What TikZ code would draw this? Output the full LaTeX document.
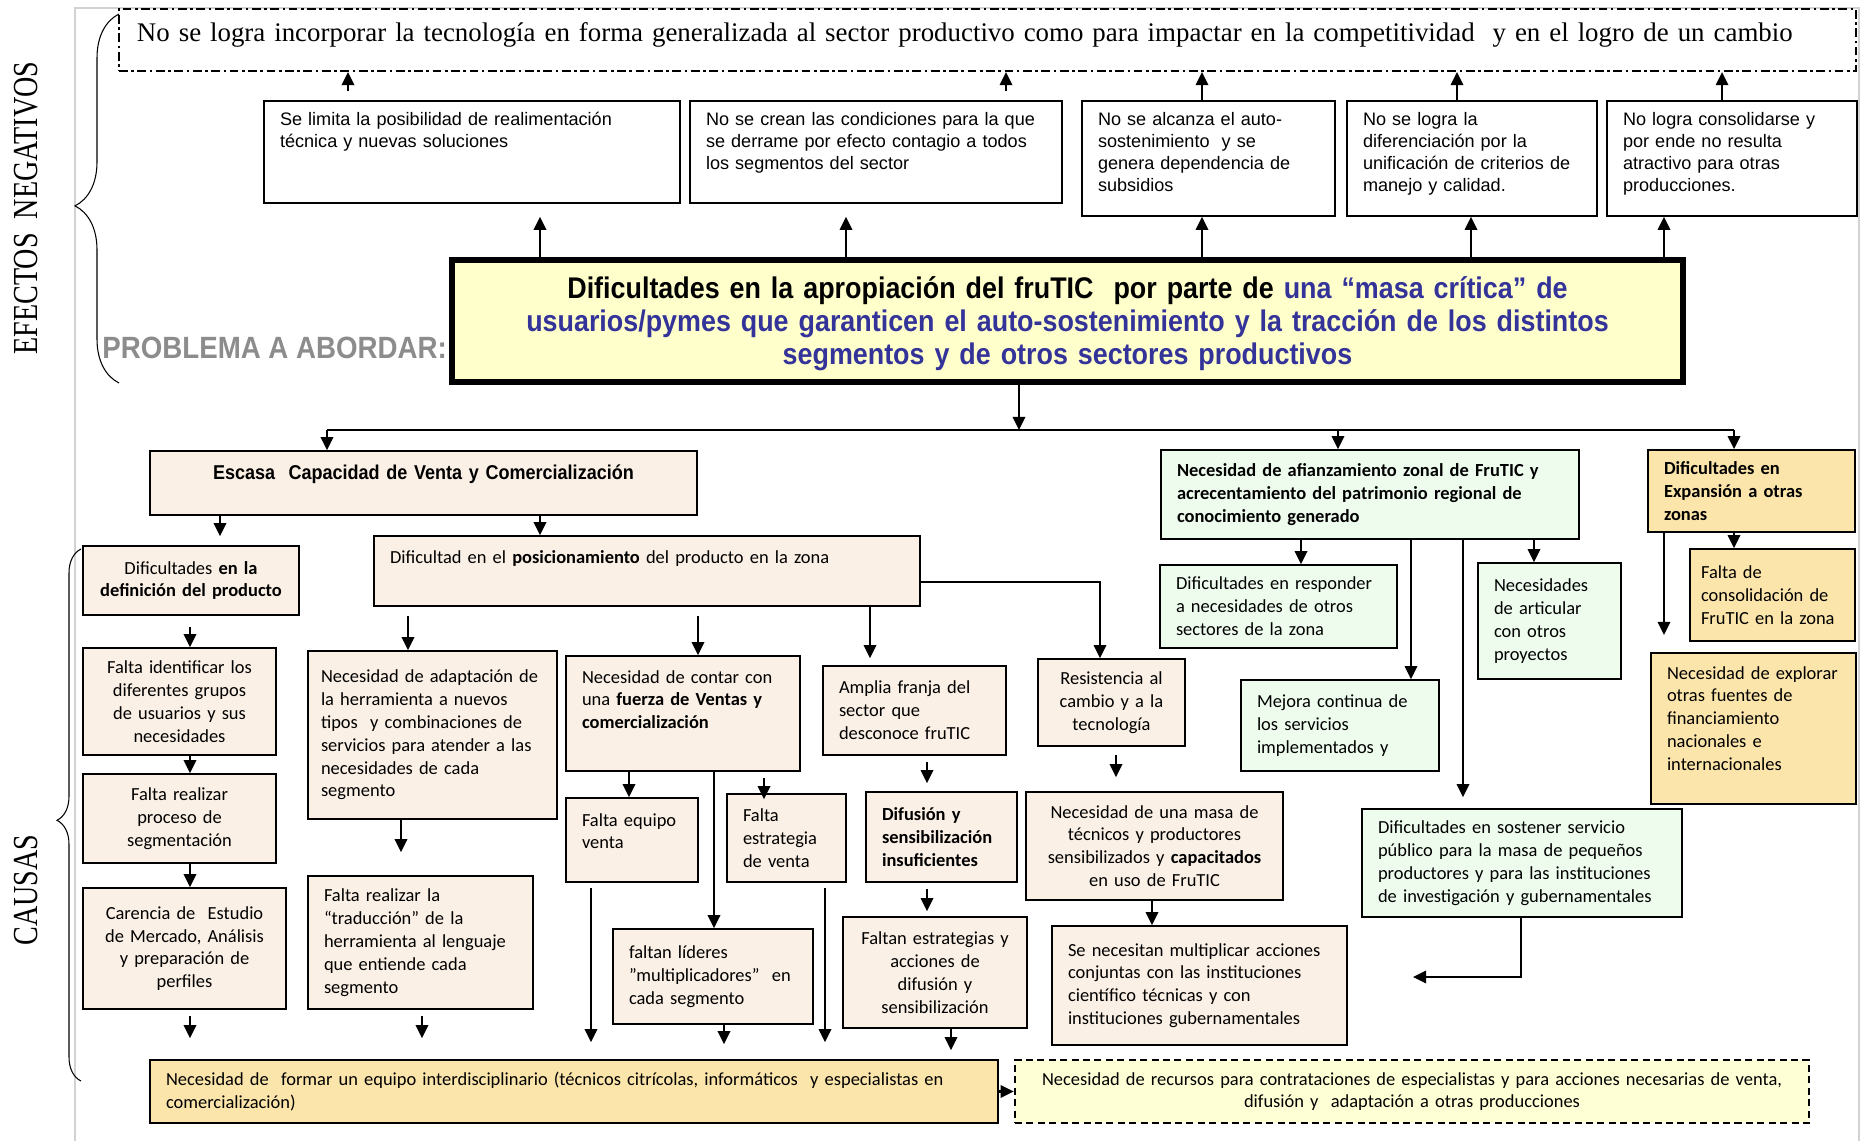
\documentclass[tikz,border=0pt]{standalone}
\usepackage{fontspec}
\setmainfont{Carlito}
\newfontfamily\angosta[FakeStretch=0.9]{Liberation Sans}
\newfontfamily\arial{Liberation Sans}
\newfontfamily\serifa{Liberation Serif}
\newfontfamily\serifang[FakeStretch=0.8]{Liberation Serif}
\usetikzlibrary{arrows.meta,decorations.pathreplacing}
\definecolor{fondoCausa}{RGB}{251,240,229}
\definecolor{fondoVerde}{RGB}{238,252,238}
\definecolor{fondoNaranja}{RGB}{252,229,170}
\definecolor{fondoProb}{RGB}{255,255,204}
\definecolor{fondoRec}{RGB}{255,255,214}
\definecolor{azulProb}{RGB}{51,51,153}
\definecolor{grisEtiq}{RGB}{140,140,140}
\tikzset{
  ancho/.code={\pgfmathsetlengthmacro\anchocaja{#1*0.02cm-2*\pgfkeysvalueof{/pgf/inner xsep}}\pgfkeysalso{/tikz/text width=\anchocaja}},
  alto/.code={\pgfmathsetlengthmacro\altocaja{#1*0.02cm}\pgfkeysalso{/tikz/minimum height=\altocaja}},
  arriba/.code 2 args={\pgfmathsetlengthmacro\arribaA{#1*0.02cm}\pgfmathsetlengthmacro\arribaB{#2*0.02cm}\pgfkeysalso{/tikz/text height=\arribaA,/tikz/text depth=\arribaB}},
  caja/.style={draw, line width=0.9pt, inner xsep=0.32cm, inner ysep=0.16cm, font=\fontsize{10.5}{13}\selectfont},
  causa/.style={caja, fill=fondoCausa},
  verde/.style={caja, fill=fondoVerde},
  naranja/.style={caja, fill=fondoNaranja},
  efecto/.style={draw, line width=0.8pt, fill=white, inner xsep=0.32cm, inner ysep=0.2cm, align=left, font=\arial\fontsize{10.3}{12.4}\selectfont},
  flecha/.style={->, line width=1.4pt},
  llave/.style={decorate, line width=0.6pt},
}
\begin{document}
\begin{tikzpicture}[x=0.02cm, y=-0.02cm, >={Triangle[length=7.5pt,width=7pt]}]
\useasboundingbox (0,0) rectangle (1862,1141);
\fill[white] (0,0) rectangle (1862,1141);
\draw[gray!35, line width=0.8pt] (75,1141) -- (75,8) -- (1859,8) -- (1859,1141);

\node[draw, line width=1.2pt, dash pattern=on 5pt off 2pt on 1.5pt off 2pt, inner xsep=0.36cm, inner ysep=0pt, align=left, ancho=1737, arriba={33}{29}, font=\serifa\fontsize{15.3}{18}\selectfont] (sup) at (987.5,40) {No se logra incorporar la tecnología en forma generalizada al sector productivo como para impactar en la competitividad\ \ y en el logro de un cambio};

\node[efecto, ancho=416, arriba={15}{67}] (e1) at (472,152) {Se limita la posibilidad de realimentación\\técnica y nuevas soluciones};
\node[efecto, ancho=372, arriba={15}{67}] (e2) at (876,152) {No se crean las condiciones para la que\\se derrame por efecto contagio a todos\\los segmentos del sector};
\node[efecto, ancho=253, arriba={15}{80}] (e3) at (1208.5,158.5) {No se alcanza el auto-\\sostenimiento\ \ y se\\genera dependencia de\\subsidios};
\node[efecto, ancho=250, arriba={15}{80}] (e4) at (1472,158.5) {No se logra la\\diferenciación por la\\unificación de criterios de\\manejo y calidad.};
\node[efecto, ancho=250, arriba={15}{80}] (e5) at (1732,158.5) {No logra consolidarse y\\por ende no resulta\\atractivo para otras\\producciones.};

\node[draw, line width=3.4pt, fill=fondoProb, inner xsep=0.3cm, inner ysep=0pt, ancho=1231, arriba={39}{83}, align=center, font=\angosta\bfseries\fontsize{17}{18.5}\selectfont] (prob) at (1067.5,321) {Dificultades en la apropiación del fruTIC\ \ por parte de \textcolor{azulProb}{una “masa crítica” de}\\\textcolor{azulProb}{usuarios/pymes que garanticen el auto-sostenimiento y la tracción de los distintos}\\\textcolor{azulProb}{segmentos y de otros sectores productivos}};
\node[anchor=base east, text=grisEtiq, font=\angosta\bfseries\fontsize{17.5}{21}\selectfont] (etiq) at (453,359) {PROBLEMA A ABORDAR:};

\node[rotate=90, font=\serifang\fontsize{20}{24}\selectfont] (efectos) at (26,208) {EFECTOS\ \ NEGATIVOS};
\node[rotate=90, font=\serifang\fontsize{20}{24}\selectfont] (causas) at (26,890) {CAUSAS};
\draw[llave, decoration={brace, amplitude=0.88cm, aspect=0.48}] (119,383) -- (119,14);
\draw[llave, decoration={brace, amplitude=0.48cm, aspect=0.49}] (81,1081) -- (81,549);

\node[causa, ancho=547, align=center, arriba={21}{27}, font=\angosta\bfseries\fontsize{11.4}{13}\selectfont] (esc) at (423.5,483) {Escasa\ \ Capacidad de Venta y Comercialización};
\node[causa, ancho=216, alto=69, align=center] (defprod) at (191,580.5) {Dificultades \textbf{en la}\\\textbf{definición del producto}};
\node[causa, ancho=546, align=left, arriba={20}{34}] (posic) at (647,571) {Dificultad en el \textbf{posicionamiento} del producto en la zona};
\node[causa, ancho=193, alto=107, align=center] (grupos) at (179.5,701.5) {Falta identificar los\\diferentes grupos\\de usuarios y sus\\necesidades};
\node[causa, ancho=193, alto=89, align=center] (segm) at (179.5,818.5) {Falta realizar\\proceso de\\segmentación};
\node[causa, ancho=203, alto=121, align=center] (estudio) at (184.5,948.5) {Carencia de\ \ Estudio\\de Mercado, Análisis\\y preparación de\\perfiles};
\node[causa, inner xsep=0.26cm, ancho=249, alto=168, align=left] (adapt) at (432.5,735) {Necesidad de adaptación de\\la herramienta a nuevos\\tipos\ \ y combinaciones de\\servicios para atender a las\\necesidades de cada\\segmento};
\node[causa, ancho=225, alto=133, align=left] (traduc) at (420.5,942.5) {Falta realizar la\\“traducción” de la\\herramienta al lenguaje\\que entiende cada\\segmento};
\node[causa, ancho=234, align=left, arriba={19}{80}] (fuerza) at (683,713.5) {Necesidad de contar con\\una \textbf{fuerza de Ventas y}\\\textbf{comercialización}};
\node[causa, ancho=132, align=left, arriba={20}{48}] (equipo) at (632,840) {Falta equipo\\venta};
\node[causa, ancho=119, alto=88, align=left] (estrat) at (786.5,838) {Falta\\estrategia\\de venta};
\node[causa, ancho=200, alto=95, align=left] (lideres) at (713,976.5) {faltan líderes\\"multiplicadores"\ \ en\\cada segmento};
\node[causa, ancho=183, alto=89, align=left] (franja) at (914.5,710.5) {Amplia franja del\\sector que\\desconoce fruTIC};
\node[causa, ancho=151, alto=90, align=left, font=\bfseries\fontsize{10.5}{13}\selectfont] (difus) at (941.5,837) {Difusión y\\sensibilización\\insuficientes};
\node[causa, ancho=184, alto=111, align=center] (faltdif) at (935,972.5) {Faltan estrategias y\\acciones de\\difusión y\\sensibilización};
\node[causa, ancho=147, alto=87, align=center] (resist) at (1111.5,702.5) {Resistencia al\\cambio y a la\\tecnología};
\node[causa, ancho=257, alto=108, align=center] (masa) at (1154.5,846) {Necesidad de una masa de\\técnicos y productores\\sensibilizados y \textbf{capacitados}\\en uso de FruTIC};
\node[causa, ancho=295, alto=119, align=left] (accion) at (1199.5,985.5) {Se necesitan multiplicar acciones\\conjuntas con las instituciones\\científico técnicas y con\\instituciones gubernamentales};

\node[verde, ancho=418, alto=89, align=left, font=\bfseries\fontsize{10.5}{13}\selectfont] (afianz) at (1370,494.5) {Necesidad de afianzamiento zonal de FruTIC y\\acrecentamiento del patrimonio regional de\\conocimiento generado};
\node[verde, ancho=237, alto=83, align=left] (respond) at (1278.5,606.5) {Dificultades en responder\\a necesidades de otros\\sectores de la zona};
\node[verde, ancho=198, alto=91, align=left] (mejora) at (1340,725.5) {Mejora continua de\\los servicios\\implementados y};
\node[verde, ancho=143, alto=116, align=left] (articul) at (1549.5,621) {Necesidades\\de articular\\con otros\\proyectos};
\node[verde, ancho=320, alto=108, align=left] (sostener) at (1522,863) {Dificultades en sostener servicio\\público para la masa de pequeños\\productores y para las instituciones\\de investigación y gubernamentales};

\node[naranja, ancho=207, alto=82, align=left, font=\bfseries\fontsize{10.5}{13}\selectfont] (expans) at (1751.5,491) {Dificultades en\\Expansión a otras\\zonas};
\node[naranja, inner xsep=0.22cm, ancho=165, alto=92, align=left] (consol) at (1772.5,595) {Falta de\\consolidación de\\FruTIC en la zona};
\node[naranja, ancho=205, align=left, arriba={18}{117}] (explor) at (1753.5,728.5) {Necesidad de explorar\\otras fuentes de\\financiamiento\\nacionales e\\internacionales};

\node[naranja, ancho=848, alto=63, align=left] (interd) at (574,1091.5) {Necesidad de\ \ formar un equipo interdisciplinario (técnicos citrícolas, informáticos\ \ y especialistas en\\comercialización)};
\node[caja, fill=fondoRec, line width=1.3pt, dash pattern=on 4pt off 2.5pt, inner xsep=0.15cm, ancho=794, alto=63, align=center] (recursos) at (1412,1091.5) {Necesidad de recursos para contrataciones de especialistas y para acciones necesarias de venta,\\difusión y\ \ adaptación a otras producciones};

% efectos
\draw[flecha] ([yshift=0.18cm]e1.north -| 348,0) -- (sup.south -| 348,0);
\draw[flecha] ([yshift=0.18cm]e2.north -| 1006,0) -- (sup.south -| 1006,0);
\draw[flecha] (e3.north -| 1202,0) -- (sup.south -| 1202,0);
\draw[flecha] (e4.north -| 1457,0) -- (sup.south -| 1457,0);
\draw[flecha] (e5.north -| 1722,0) -- (sup.south -| 1722,0);
\draw[flecha] (prob.north -| 540,0) -- ([yshift=-0.26cm]e1.south -| 540,0);
\draw[flecha] (prob.north -| 846,0) -- ([yshift=-0.26cm]e2.south -| 846,0);
\draw[flecha] (prob.north -| 1202,0) -- (e3.south -| 1202,0);
\draw[flecha] (prob.north -| 1471,0) -- (e4.south -| 1471,0);
\draw[flecha] (prob.north -| 1664,0) -- (e5.south -| 1664,0);

% causas
\coordinate (bus) at (1019,430);
\coordinate (busI) at (327,430);
\coordinate (busC) at (1338,430);
\coordinate (busD) at (1734,430);
\draw[flecha] (prob.south -| bus) -- (bus);
\draw[line width=1pt] (busI) -- (busD);
\draw[flecha] (busI) -- (busI |- esc.north);
\draw[flecha] (busC) -- (busC |- afianz.north);
\draw[flecha] (busD) -- (busD |- expans.north);

\draw[flecha] (esc.south -| 220,0) -- ([yshift=0.18cm]defprod.north -| 220,0);
\draw[flecha] (esc.south -| 540,0) -- (posic.north -| 540,0);
\draw[flecha] ([yshift=-0.22cm]defprod.south -| 190,0) -- (grupos.north -| 190,0);
\draw[flecha] (grupos.south -| 190,0) -- (segm.north -| 190,0);
\draw[flecha] (segm.south -| 190,0) -- (estudio.north -| 190,0);
\draw[flecha] ([yshift=-0.12cm]estudio.south -| 190,0) -- ([yshift=0.42cm]interd.north -| 190,0);

\draw[flecha] ([yshift=-0.18cm]posic.south -| 408,0) -- (adapt.north -| 408,0);
\draw[flecha] (adapt.south -| 401,0) -- ([yshift=0.46cm]traduc.north -| 401,0);
\draw[flecha] ([yshift=-0.12cm]traduc.south -| 422,0) -- ([yshift=0.42cm]interd.north -| 422,0);

\draw[flecha] ([yshift=-0.18cm]posic.south -| 698,0) -- (fuerza.north -| 698,0);
\draw[flecha] (fuerza.south -| 629,0) -- (equipo.north -| 629,0);
\draw[flecha] (fuerza.south -| 714,0) -- (lideres.north -| 714,0);
\draw[flecha] ([yshift=-0.12cm]fuerza.south -| 764,0) -- ([yshift=-0.12cm]estrat.north -| 764,0);
\draw[flecha] ([yshift=-0.1cm]equipo.south -| 591,0) -- ([yshift=0.34cm]interd.north -| 591,0);
\draw[flecha] ([yshift=-0.1cm]estrat.south -| 825,0) -- ([yshift=0.34cm]interd.north -| 825,0);
\draw[flecha] (lideres.south -| 724,0) -- ([yshift=0.3cm]interd.north -| 724,0);

\draw[flecha] (posic.south -| 870,0) -- ([yshift=0.14cm]franja.north -| 870,0);
\draw[flecha] ([yshift=-0.12cm]franja.south -| 927,0) -- ([yshift=0.16cm]difus.north -| 927,0);
\draw[flecha] ([yshift=-0.12cm]difus.south -| 927,0) -- ([yshift=0.1cm]faltdif.north -| 927,0);
\draw[flecha] (faltdif.south -| 951,0) -- ([yshift=0.18cm]interd.north -| 951,0);

\draw[flecha] (posic.east |- 0,582) -| (resist.north -| 1100,0);
\draw[flecha] ([yshift=-0.16cm]resist.south -| 1116,0) -- ([yshift=0.28cm]masa.north -| 1116,0);
\draw[flecha] (masa.south -| 1152,0) -- (accion.north -| 1152,0);

\draw[flecha] (afianz.south -| 1301,0) -- (respond.north -| 1301,0);
\draw[flecha] (afianz.south -| 1411,0) -- (mejora.north -| 1411,0);
\draw[flecha] (afianz.south -| 1463,0) -- ([yshift=0.22cm]sostener.north -| 1463,0);
\draw[flecha] (afianz.south -| 1534,0) -- (articul.north -| 1534,0);
\coordinate (retorno) at (1413,977);
\draw[flecha] (sostener.south -| 1521,0) |- (retorno);

\coordinate (libre) at (1664,635);
\draw[flecha] (expans.south -| libre) -- (libre);
\draw[flecha] (expans.south -| 1734,0) -- (consol.north -| 1734,0);

\draw[flecha] (interd.east) -- (recursos.west);
\end{tikzpicture}
\end{document}
